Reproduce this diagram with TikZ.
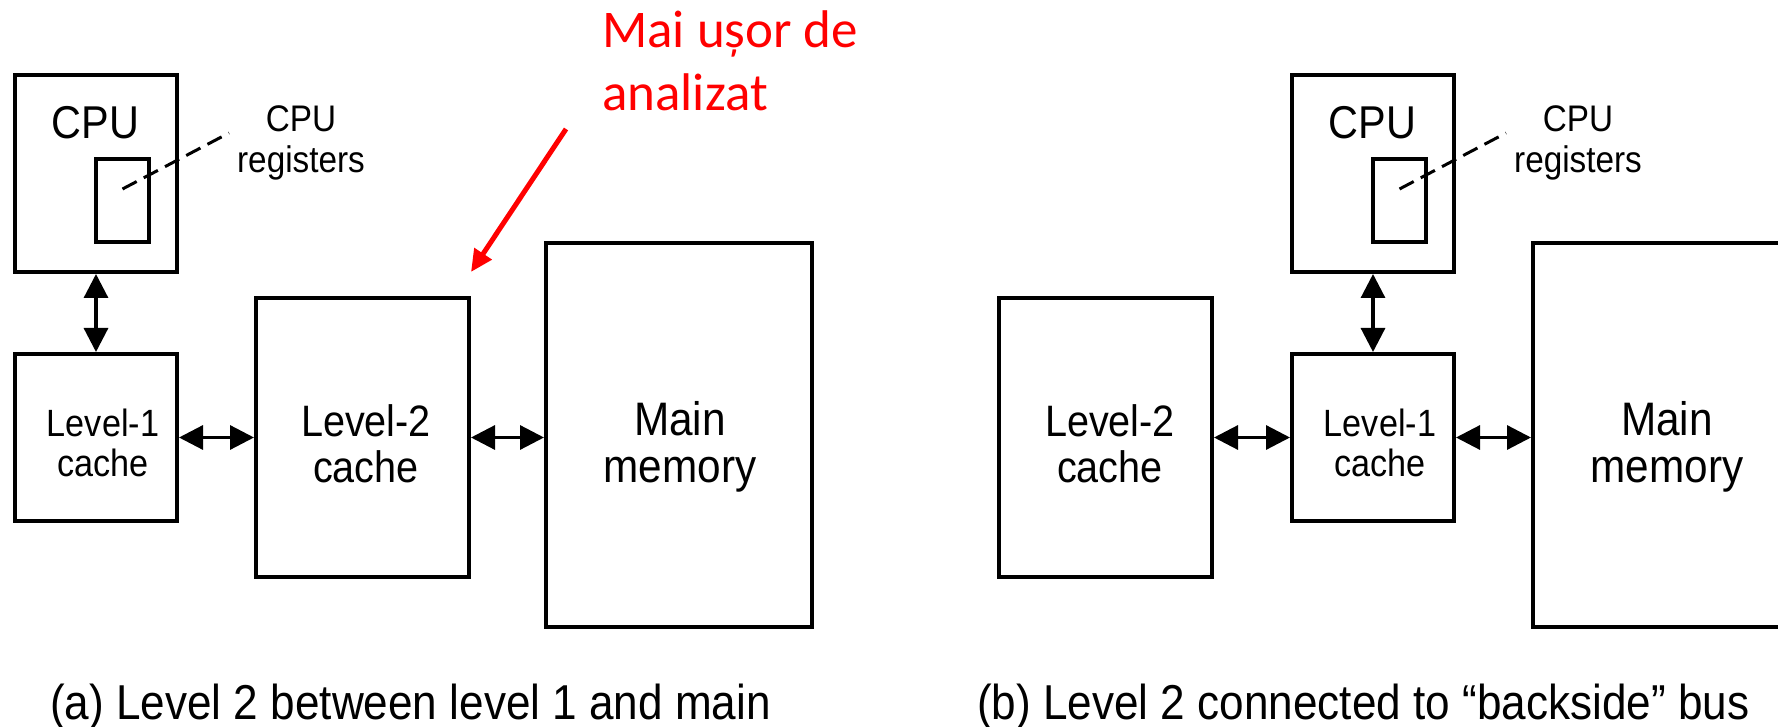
\documentclass[tikz,border=0pt]{standalone}
\usepackage{fontspec}
\setmainfont{Liberation Sans}[FakeStretch=0.9]
\newfontfamily\calibrifont{Carlito}
\usetikzlibrary{arrows.meta}
\tikzset {>={Triangle[length=24pt,width=24pt]},
  box/.style={draw, line width=4pt, inner sep=0pt},
  txt/.style={align=center, inner sep=0pt, anchor=north},
  cputext/.style={txt, font=\fontsize{46}{50}\selectfont},
  regtext/.style={txt, font=\fontsize{37}{41}\selectfont},
  lonetext/.style={txt, font=\fontsize{38}{40}\selectfont},
  ltwotext/.style={txt, font=\fontsize{44}{46}\selectfont},
  maintext/.style={txt, font=\fontsize{47}{47}\selectfont},
  caption/.style={inner sep=0pt, anchor=base west, font=\fontsize{49}{52}\selectfont},
  link/.style={<->, line width=3.2pt},
  leader/.style={line width=3pt, dash pattern=on 16pt off 8pt},
}

\begin{document}
\begin{tikzpicture}[x=1pt,y=-1pt]
\clip (0,0) rectangle (1778,727);

% (a) level 2 between level 1 and main
\node[box, minimum width=162pt, minimum height=197pt] (cpuA) at (96,173.5) {};
\node[box, minimum width=53pt, minimum height=83pt] (regA) at (122.5,200.5) {};
\node[box, minimum width=162pt, minimum height=167pt] (l1A) at (96,437.5) {};
\node[box, minimum width=213pt, minimum height=279pt] (l2A) at (362.5,437.5) {};
\node[box, minimum width=266pt, minimum height=384pt] (mainA) at (679,435) {};

\node[cputext] (cpuAtxt) at (95.5,106) {CPU};
\node[regtext] (regAtxt) at (301,105) {CPU\\registers};
\node[lonetext] (l1Atxt) at (103,409) {Level-1\\cache};
\node[ltwotext] (l2Atxt) at (366,404) {Level-2\\cache};
\node[maintext] (mainAtxt) at (680,401) {Main\\memory};

\coordinate (regAout) at (229,133);
\draw[leader] ([yshift=11.5pt]regA.center) -- (regAout);
\draw[link] (cpuA.south) -- (l1A.north);
\draw[link] (l1A.east) -- (l2A.west);
\draw[link] (l2A.east) -- (l2A.east -| mainA.west);

\node[caption] (capA) at (50,719) {(a) Level 2 between level 1 and main};

% note
\node[inner sep=0pt, anchor=north west, align=left, text=red,
  font=\calibrifont\fontsize{53}{63}\selectfont] (note) at (602,11) {Mai ușor de\\analizat};
\coordinate (notefoot) at (566,129);
\coordinate (notetip) at (471,272);
\draw[red, line width=5pt, -{Triangle[length=22pt,width=20pt]}] (notefoot) -- (notetip);

% (b) level 2 on the backside bus
\node[box, minimum width=213pt, minimum height=279pt] (l2B) at (1105.5,437.5) {};
\node[box, minimum width=162pt, minimum height=197pt] (cpuB) at (1373,173.5) {};
\node[box, minimum width=53pt, minimum height=83pt] (regB) at (1399.5,200.5) {};
\node[box, minimum width=162pt, minimum height=167pt] (l1B) at (1373,437.5) {};
\node[box, minimum width=266pt, minimum height=384pt] (mainB) at (1666,435) {};

\node[cputext] (cpuBtxt) at (1372.5,106) {CPU};
\node[regtext] (regBtxt) at (1578,105) {CPU\\registers};
\node[ltwotext] (l2Btxt) at (1110,404) {Level-2\\cache};
\node[lonetext] (l1Btxt) at (1380,409) {Level-1\\cache};
\node[maintext] (mainBtxt) at (1667,401) {Main\\memory};

\coordinate (regBout) at (1506,133);
\draw[leader] ([yshift=11.5pt]regB.center) -- (regBout);
\draw[link] (cpuB.south) -- (l1B.north);
\draw[link] (l2B.east) -- (l1B.west);
\draw[link] (l1B.east) -- (l1B.east -| mainB.west);

\node[caption] (capB) at (977,719) {(b) Level 2 connected to “backside” bus};
\end{tikzpicture}
\end{document}
